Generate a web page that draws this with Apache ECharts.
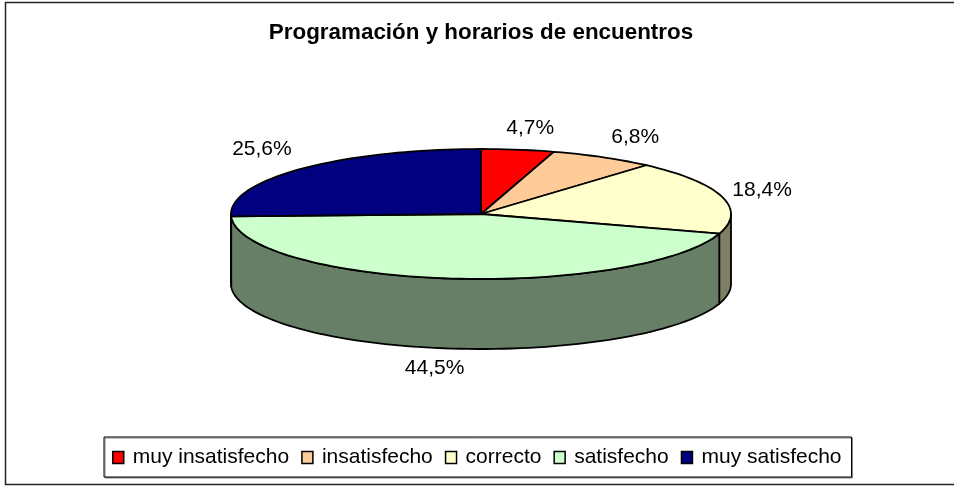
<!DOCTYPE html>
<html>
<head>
<meta charset="utf-8">
<style>html,body{margin:0;padding:0;background:#fff}#c{width:954px;height:486px}</style>
<script src="https://cdn.jsdelivr.net/npm/echarts@6/dist/echarts.min.js"></script>
</head>
<body>
<div id="c"></div>
<script>
var titleText = 'Programación y horarios de encuentros';
var categories = ['muy insatisfecho', 'insatisfecho', 'correcto', 'satisfecho', 'muy satisfecho'];
var values = [4.7, 6.8, 18.4, 44.5, 25.6];
var topColors = ['#FF0000', '#FFCC99', '#FFFFCC', '#CCFFCC', '#000080'];
var sideColors = ['#7F0000', '#7F6650', '#7F7F66', '#667F66', '#000040'];
var labelNudgeX = [5, 8, -8, -6, -3];
var labelNudgeY = [1, 0, 0, -3, -4];

var CX = 481, CY = 214, RX = 250, RY = 65, DEPTH = 70, LRX = 300, LRY = 88;
var FONT = 'Liberation Sans, Arial, sans-serif';
var total = values.reduce(function (a, b) { return a + b; }, 0);

function pt(deg, dy, rx, ry) {
  var r = deg * Math.PI / 180;
  return [CX + (rx || RX) * Math.sin(r), CY + (dy || 0) - (ry || RY) * Math.cos(r)];
}
function arc(a, b, dy) {
  var out = [], n = Math.max(2, Math.ceil(Math.abs(b - a) / 2));
  for (var i = 0; i <= n; i++) out.push(pt(a + (b - a) * i / n, dy));
  return out;
}
function render(idx) {
  return function () {
    var start = 0;
    for (var i = 0; i < idx; i++) start += values[i];
    var a = start / total * 360, b = (start + values[idx]) / total * 360;
    var children = [];
    var wa = Math.max(a, 90), wb = Math.min(b, 270);
    if (wb > wa) {
      children.push({
        type: 'polygon', z2: 1,
        shape: { points: arc(wa, wb, 0).concat(arc(wb, wa, DEPTH)) },
        style: { fill: sideColors[idx], stroke: '#000', lineWidth: 1.8, lineJoin: 'round' }
      });
    }
    children.push({
      type: 'polygon', z2: 2,
      shape: { points: [[CX, CY]].concat(arc(a, b, 0)) },
      style: { fill: topColors[idx], stroke: '#000', lineWidth: 1.8, lineJoin: 'round' }
    });
    var mid = (a + b) / 2;
    var lp = pt(mid, (mid > 90 && mid < 270) ? DEPTH : 0, LRX, LRY);
    children.push({
      type: 'text', z2: 3,
      x: lp[0] + labelNudgeX[idx], y: lp[1] + labelNudgeY[idx],
      style: {
        text: values[idx].toFixed(1).replace('.', ',') + '%',
        fill: '#000', font: '21px ' + FONT, textAlign: 'center', textVerticalAlign: 'middle'
      }
    });
    return { type: 'group', children: children };
  };
}

var chart = echarts.init(document.getElementById('c'), null, { renderer: 'canvas' });
chart.setOption({
  animation: false,
  backgroundColor: '#fff',
  title: {
    text: titleText, left: 476, top: 16, textAlign: 'center',
    textStyle: { fontFamily: FONT, fontSize: 22.4, fontWeight: 'bold', color: '#000', lineHeight: 24 }
  },
  legend: {
    left: 104, top: 437,
    padding: [10, 10, 9, 8],
    orient: 'horizontal',
    itemWidth: 11, itemHeight: 12, itemGap: 12,
    selectedMode: false, icon: 'rect',
    backgroundColor: '#fff', borderColor: '#000', borderWidth: 1,
    shadowColor: '#888', shadowOffsetX: 1, shadowOffsetY: 1, shadowBlur: 0,
    itemStyle: { borderColor: '#000', borderWidth: 1.5 },
    textStyle: { fontFamily: FONT, fontSize: 21, color: '#000', padding: [0, 0, 0, 4] },
    data: categories
  },
  graphic: [{
    type: 'polyline', z: -1, silent: true,
    shape: { points: [[954, 2.5], [5.5, 2.5], [5.5, 484.5], [954, 484.5]] },
    style: { fill: 'none', stroke: '#222', lineWidth: 1.5 }
  }],
  series: categories.map(function (name, i) {
    return {
      type: 'custom', name: name, coordinateSystem: 'none',
      itemStyle: { color: topColors[i] },
      data: [values[i]], renderItem: render(i), silent: true
    };
  })
});
</script>
</body>
</html>
